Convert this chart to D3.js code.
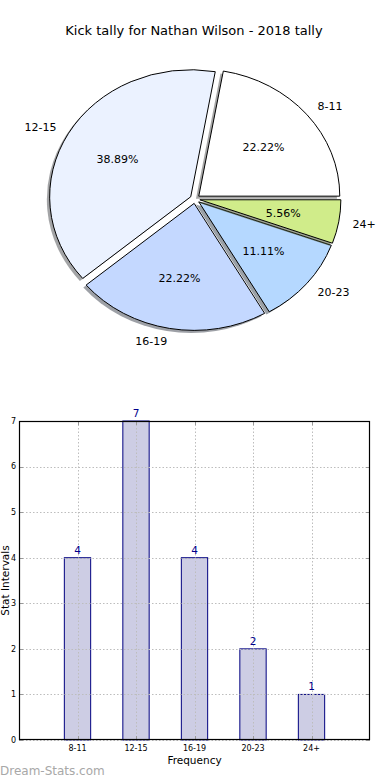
<!DOCTYPE html>
<html>
<head>
<meta charset="utf-8">
<script src="https://cdn.jsdelivr.net/npm/d3@7"></script>
<style>
  body { margin: 0; background: #fff; }
  svg { display: block; font-family: "DejaVu Sans", sans-serif; }
</style>
</head>
<body>
<div id="chart"></div>
<script>
// chart data
const categories = ["8-11", "12-15", "16-19", "20-23", "24+"];
const tally = [4, 7, 4, 2, 1];
const sliceColors = ["#ffffff", "#ebf2ff", "#c4d8ff", "#b5d8ff", "#d0ec8a"];
const yTicks = [0, 1, 2, 3, 4, 5, 6, 7];
const title = "Kick tally for Nathan Wilson - 2018 tally";

const W = 390, H = 780;
const svg = d3.select("#chart").append("svg")
  .attr("width", W)
  .attr("height", H);

svg.append("text")
  .attr("x", 194).attr("y", 35)
  .attr("text-anchor", "middle")
  .style("font-size", "13px")
  .text(title);

// ---- pie (matplotlib style: starts at east, counter clockwise, slightly stretched) ----
const cx = 195, cy = 199, Rx = 141, Ry = 127;
const explode = 0.035;
const total = d3.sum(tally);

const pie = d3.pie().sort(null)
  .startAngle(Math.PI / 2)
  .endAngle(Math.PI / 2 - 2 * Math.PI);
const arcs = pie(tally);
const arc = d3.arc().innerRadius(0).outerRadius(1);

const pieG = svg.append("g");

function shade(c) {
  const k = d3.rgb(c);
  return d3.rgb(k.r * 0.3, k.g * 0.3, k.b * 0.3).toString();
}

arcs.forEach(function(d, i) {
  const mid = (d.startAngle + d.endAngle) / 2;
  const ox = cx + explode * Rx * Math.sin(mid);
  const oy = cy - explode * Ry * Math.cos(mid);
  // shadow
  pieG.append("path")
    .attr("d", arc(d))
    .attr("transform", "translate(" + (ox - 0.02 * Rx) + "," + (oy + 0.02 * Ry) + ") scale(" + Rx + "," + Ry + ")")
    .attr("fill", shade(sliceColors[i]))
    .attr("opacity", 0.5);
  // wedge
  pieG.append("path")
    .attr("d", arc(d))
    .attr("transform", "translate(" + ox + "," + oy + ") scale(" + Rx + "," + Ry + ")")
    .attr("fill", sliceColors[i])
    .attr("stroke", "#000")
    .attr("stroke-width", 1)
    .attr("vector-effect", "non-scaling-stroke");
});

arcs.forEach(function(d, i) {
  const mid = (d.startAngle + d.endAngle) / 2;
  const sx = Math.sin(mid), sy = -Math.cos(mid);
  // category label
  const lr = 1.1 + explode;
  pieG.append("text")
    .attr("x", cx + lr * Rx * sx)
    .attr("y", cy + lr * Ry * sy)
    .attr("dy", "0.35em")
    .attr("text-anchor", sx > 0 ? "start" : "end")
    .style("font-size", "11px")
    .text(categories[i]);
  // percentage
  const pr = 0.6 + explode;
  pieG.append("text")
    .attr("x", cx + pr * Rx * sx)
    .attr("y", cy + pr * Ry * sy)
    .attr("dy", "0.35em")
    .attr("text-anchor", "middle")
    .style("font-size", "11px")
    .text((tally[i] / total * 100).toFixed(2) + "%");
});

// ---- bar chart ----
const box = {left: 19, right: 370, top: 421, bottom: 740};

const x = d3.scaleLinear().domain([0, categories.length + 1]).range([box.left, box.right]);
const y = d3.scaleLinear().domain([0, 7]).range([box.bottom, box.top]);
const barW = 0.45;

const barG = svg.append("g");

barG.selectAll("rect.bar")
  .data(tally)
  .enter()
  .append("rect")
    .attr("class", "bar")
    .attr("x", function(d, i) { return x(i + 1 - barW / 2); })
    .attr("y", function(d) { return y(d); })
    .attr("width", x(barW) - x(0))
    .attr("height", function(d) { return y(0) - y(d); })
    .attr("fill", "#cdcde4")
    .attr("stroke", "#000080")
    .attr("stroke-width", 1);

// grid on top of the bars
const gridG = barG.append("g")
  .attr("stroke", "#bdbdbd")
  .attr("stroke-width", 1)
  .attr("stroke-dasharray", "1.5,2");

yTicks.forEach(function(t) {
  gridG.append("line")
    .attr("x1", box.left).attr("x2", box.right)
    .attr("y1", Math.round(y(t)) + 0.5).attr("y2", Math.round(y(t)) + 0.5);
});
categories.forEach(function(c, i) {
  gridG.append("line")
    .attr("x1", Math.round(x(i + 1)) + 0.5).attr("x2", Math.round(x(i + 1)) + 0.5)
    .attr("y1", box.top).attr("y2", box.bottom);
});

// inward ticks on all sides
const tickG = barG.append("g").attr("stroke", "#999").attr("stroke-width", 1);
yTicks.forEach(function(t) {
  const yy = Math.round(y(t)) + 0.5;
  tickG.append("line").attr("x1", box.left).attr("x2", box.left + 4).attr("y1", yy).attr("y2", yy);
  tickG.append("line").attr("x1", box.right - 4).attr("x2", box.right).attr("y1", yy).attr("y2", yy);
});
categories.forEach(function(c, i) {
  const xx = Math.round(x(i + 1)) + 0.5;
  tickG.append("line").attr("x1", xx).attr("x2", xx).attr("y1", box.bottom).attr("y2", box.bottom - 4);
  tickG.append("line").attr("x1", xx).attr("x2", xx).attr("y1", box.top).attr("y2", box.top + 4);
});

// frame
barG.append("rect")
  .attr("x", box.left + 0.5).attr("y", box.top + 0.5)
  .attr("width", box.right - box.left - 1).attr("height", box.bottom - box.top - 1)
  .attr("fill", "none")
  .attr("stroke", "#000")
  .attr("stroke-width", 1.2);

// tick labels
barG.selectAll("text.ytick")
  .data(yTicks)
  .enter()
  .append("text")
    .attr("class", "ytick")
    .attr("x", box.left - 3)
    .attr("y", function(d) { return y(d); })
    .attr("dy", "0.35em")
    .attr("text-anchor", "end")
    .style("font-size", "8px")
    .text(function(d) { return d; });

barG.selectAll("text.xtick")
  .data(categories)
  .enter()
  .append("text")
    .attr("class", "xtick")
    .attr("x", function(d, i) { return x(i + 1); })
    .attr("y", box.bottom + 11)
    .attr("text-anchor", "middle")
    .style("font-size", "8px")
    .text(function(d) { return d; });

// value labels
barG.selectAll("text.val")
  .data(tally)
  .enter()
  .append("text")
    .attr("class", "val")
    .attr("x", function(d, i) { return x(i + 1); })
    .attr("y", function(d) { return y(d) - 4; })
    .attr("text-anchor", "middle")
    .attr("fill", "#00008b")
    .style("font-size", "10.5px")
    .text(function(d) { return d; });

// axis titles
barG.append("text")
  .attr("x", (box.left + box.right) / 2)
  .attr("y", 764)
  .attr("text-anchor", "middle")
  .style("font-size", "10.5px")
  .text("Frequency");

barG.append("text")
  .attr("transform", "translate(9," + ((box.top + box.bottom) / 2) + ") rotate(-90)")
  .attr("text-anchor", "middle")
  .style("font-size", "10.5px")
  .text("Stat Intervals");

// watermark
svg.append("text")
  .attr("x", 0).attr("y", 775)
  .attr("fill", "#a8a8a8")
  .style("font-size", "12px")
  .text("Dream-Stats.com");
</script>
</body>
</html>
